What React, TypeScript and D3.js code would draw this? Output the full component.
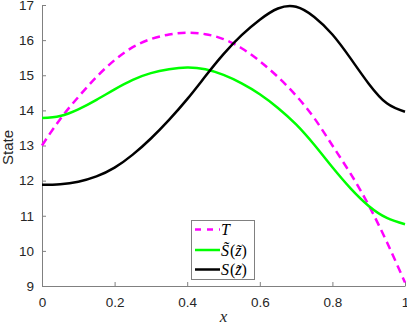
import React, { useEffect, useRef } from 'react';
import * as d3 from 'd3';

const xs = [0, 0.05, 0.1, 0.15, 0.2, 0.25, 0.3, 0.35, 0.4, 0.45, 0.5, 0.55, 0.6, 0.65, 0.7, 0.75, 0.8, 0.85, 0.9, 0.95, 1];
const tValues = [13.0, 13.75, 14.38, 14.95, 15.43, 15.8, 16.03, 16.16, 16.21, 16.17, 16.03, 15.77, 15.4, 14.95, 14.42, 13.78, 13.0, 12.2, 11.3, 10.25, 9.1];
const sTildeValues = [13.78, 13.84, 14.03, 14.3, 14.6, 14.87, 15.06, 15.17, 15.22, 15.17, 15.01, 14.77, 14.46, 14.07, 13.6, 13.02, 12.38, 11.78, 11.28, 10.94, 10.76];
const sValues = [11.88, 11.9, 11.97, 12.12, 12.37, 12.74, 13.2, 13.73, 14.32, 14.97, 15.6, 16.14, 16.58, 16.9, 16.95, 16.66, 16.16, 15.48, 14.76, 14.2, 13.96];
const xTicks = [0, 0.2, 0.4, 0.6, 0.8, 1];
const yTicks = [9, 10, 11, 12, 13, 14, 15, 16, 17];

const W = 407;
const H = 326;

const App = () => {
  const ref = useRef<SVGSVGElement>(null);

  useEffect(() => {
    const svg = d3.select(ref.current);
    svg.selectAll('*').remove();

    const x = d3.scaleLinear().domain([0, 1]).range([42, 405]);
    const y = d3.scaleLinear().domain([9, 17]).range([286, 5]);

    const axisColor = '#808080';
    const textColor = '#262626';
    const font = 'Liberation Sans, Arial, sans-serif';

    // axes (box off, ticks inward)
    const xAxis = d3.axisBottom(x).tickValues(xTicks).tickSizeInner(-4).tickSizeOuter(0).tickPadding(11).tickFormat(d3.format('~g'));
    const gx = svg.append('g').attr('transform', `translate(0,${y(9)})`).call(xAxis);
    const yAxis = d3.axisLeft(y).tickValues(yTicks).tickSizeInner(-4).tickSizeOuter(0).tickPadding(8);
    const gy = svg.append('g').attr('transform', `translate(${x(0)},0)`).call(yAxis);

    [gx, gy].forEach(g => {
      g.select('.domain').attr('stroke', axisColor);
      g.selectAll('.tick line').attr('stroke', axisColor);
      g.selectAll('.tick text')
        .attr('fill', textColor)
        .style('font-family', font)
        .style('font-size', '13.5px');
    });

    const series = [
      { values: tValues, color: '#ff00ff', dash: '8 5' },
      { values: sTildeValues, color: '#00ff00', dash: null },
      { values: sValues, color: '#000000', dash: null },
    ];

    const line = d3.line<number>()
      .x((_, i) => x(xs[i]))
      .y(d => y(d))
      .curve(d3.curveNatural);

    series.forEach(s => {
      svg.append('path')
        .datum(s.values)
        .attr('d', line)
        .attr('fill', 'none')
        .attr('stroke', s.color)
        .attr('stroke-width', 2.5)
        .attr('stroke-dasharray', s.dash);
    });

    // axis labels
    svg.append('text')
      .attr('transform', `translate(13,${(y(13) + 2)}) rotate(-90)`)
      .attr('text-anchor', 'middle')
      .attr('fill', textColor)
      .style('font-family', font)
      .style('font-size', '15px')
      .text('State');

    svg.append('text')
      .attr('x', (x(0) + x(1)) / 2)
      .attr('y', 322)
      .attr('text-anchor', 'middle')
      .attr('fill', textColor)
      .style('font-family', 'Liberation Serif, serif')
      .style('font-style', 'italic')
      .style('font-size', '17px')
      .text('x');

    // legend
    const lg = svg.append('g');
    lg.append('rect')
      .attr('x', 191.5).attr('y', 220.5)
      .attr('width', 63).attr('height', 59)
      .attr('fill', 'white')
      .attr('stroke', axisColor)
      .attr('stroke-width', 1);

    const rows = [
      { color: '#ff00ff', dash: '6 6', y: 229.5 },
      { color: '#00ff00', dash: null, y: 250 },
      { color: '#000000', dash: null, y: 269.5 },
    ];
    rows.forEach(r => {
      lg.append('line')
        .attr('x1', 195).attr('x2', 220)
        .attr('y1', r.y).attr('y2', r.y)
        .attr('stroke', r.color)
        .attr('stroke-width', 2.5)
        .attr('stroke-dasharray', r.dash);
    });

    const serif = 'Liberation Serif, serif';
    const t0 = lg.append('text').attr('x', 221).attr('y', 235)
      .style('font-family', serif).style('font-size', '16px').attr('fill', '#000');
    t0.append('tspan').style('font-style', 'italic').text('T');

    const addS = (yy: number, tilde: boolean) => {
      const t = lg.append('text').attr('x', 221).attr('y', yy)
        .style('font-family', serif).style('font-size', '16px').attr('fill', '#000');
      t.append('tspan').style('font-style', 'italic').text(tilde ? 'S\u0303' : 'S');
      t.append('tspan').attr('dx', 1).text('(');
      t.append('tspan').style('font-style', 'italic').text('z\u0303');
      t.append('tspan').text(')');
    };
    addS(255.5, true);
    addS(275, false);
  }, []);

  return (
    <svg ref={ref} width={W} height={H}
      style={{ position: 'absolute', left: 0, top: 0, background: 'white' }} />
  );
};

export default App;
